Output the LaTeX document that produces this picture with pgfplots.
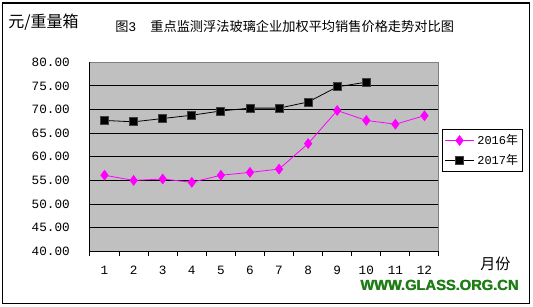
\documentclass[border=0pt]{standalone}
\usepackage{fontspec}
\setmainfont{Noto Sans CJK SC}
\setmonofont{Liberation Mono}
\newfontfamily\wm{Liberation Sans}
\usepackage{pgfplots}
\pgfplotsset{compat=1.18}
\definecolor{plotgray}{RGB}{192,192,192}
\definecolor{wmgreen}{RGB}{30,125,20}
\definecolor{mag}{RGB}{255,0,255}
\newcommand\px[2]{({(#1)*0.75pt},{(307-(#2))*0.75pt})}
\begin{document}
\begin{tikzpicture}
\useasboundingbox \px{0}{0} rectangle \px{533}{307};
\fill[white] \px{0}{0} rectangle \px{533}{307};
\draw[black, line width=1.2pt] \px{2.5}{3} rectangle \px{529.5}{303.5};
\node[anchor=west, inner sep=0pt, font=\fontsize{12pt}{14pt}\selectfont] at \px{8}{22} {元/重量箱};
\node[anchor=west, inner sep=0pt, font=\fontsize{9.9pt}{12pt}\selectfont] at \px{115}{26} {图{\ttfamily 3}\hspace{10.5pt}重点监测浮法玻璃企业加权平均销售价格走势对比图};
\node[anchor=west, inner sep=0pt, font=\fontsize{11.3pt}{13pt}\selectfont] at \px{480}{264} {月份};
\node[anchor=west, inner sep=0pt, text=wmgreen, font=\wm\bfseries\fontsize{11pt}{13pt}\selectfont] at \px{360}{285} {WWW.GLASS.ORG.CN};
\node[anchor=west, inner sep=0pt, text=wmgreen, font=\wm\bfseries\fontsize{11pt}{13pt}\selectfont] at \px{360.5}{285} {WWW.GLASS.ORG.CN};
\begin{axis}[
  at={(67.5pt,41.775pt)}, anchor=south west,
  scale only axis, width=261.75pt, height=141.75pt,
  xmin=0.5, xmax=12.5, ymin=40, ymax=80,
  axis background/.style={fill=plotgray},
  axis line style={draw=gray, line width=0.75pt},
  xtick={1,...,12},
  minor xtick={0.5,1.5,...,12.5},
  major tick length=0pt,
  minor tick length=3.5pt,
  tick align=outside,
  tick pos=left,
  minor tick style={black, line width=0.75pt},
  ytick={40,45,...,80},
  yticklabels={40.00,45.00,50.00,55.00,60.00,65.00,70.00,75.00,80.00},
  ymajorgrids,
  major grid style={black, line width=0.75pt},
  yticklabel style={font=\ttfamily\fontsize{9.5pt}{11pt}\selectfont, inner sep=0pt, anchor=east, xshift=-15pt},
  xticklabel style={font=\ttfamily\fontsize{9.5pt}{11pt}\selectfont, inner sep=0pt, anchor=north, yshift=-11pt},
  /pgf/number format/assume math mode=true,
  legend style={at={(1.0086,0.6455)}, anchor=north west, draw=black, line width=0.75pt,
    font=\fontsize{9pt}{11pt}\selectfont, inner sep=1.5pt, row sep=2pt, cells={anchor=west}},
  legend image code/.code={\draw[mark repeat=2,mark phase=2] plot coordinates {(0pt,0pt) (11pt,0pt) (22pt,0pt)};},
  clip=false,
]
\addplot[color=mag, line width=0.6pt, mark=diamond*, mark size=3.6pt, mark options={fill=mag, draw=mag}]
  coordinates {(1,56.1) (2,55.0) (3,55.3) (4,54.6) (5,56.1) (6,56.7) (7,57.4) (8,62.8) (9,69.8) (10,67.7) (11,66.9) (12,68.7)};
\addlegendentry{{\ttfamily 2016}年}
\addplot[color=black, line width=0.6pt, mark=square*, mark size=3pt, mark options={fill=black, draw=darkgray}]
  coordinates {(1,67.7) (2,67.4) (3,68.1) (4,68.8) (5,69.7) (6,70.3) (7,70.3) (8,71.6) (9,74.8) (10,75.8)};
\addlegendentry{{\ttfamily 2017}年}
\draw[black, line width=0.75pt] (rel axis cs:0,1) -- (rel axis cs:0,0) -- (rel axis cs:1,0);
\end{axis}
\end{tikzpicture}
\end{document}
